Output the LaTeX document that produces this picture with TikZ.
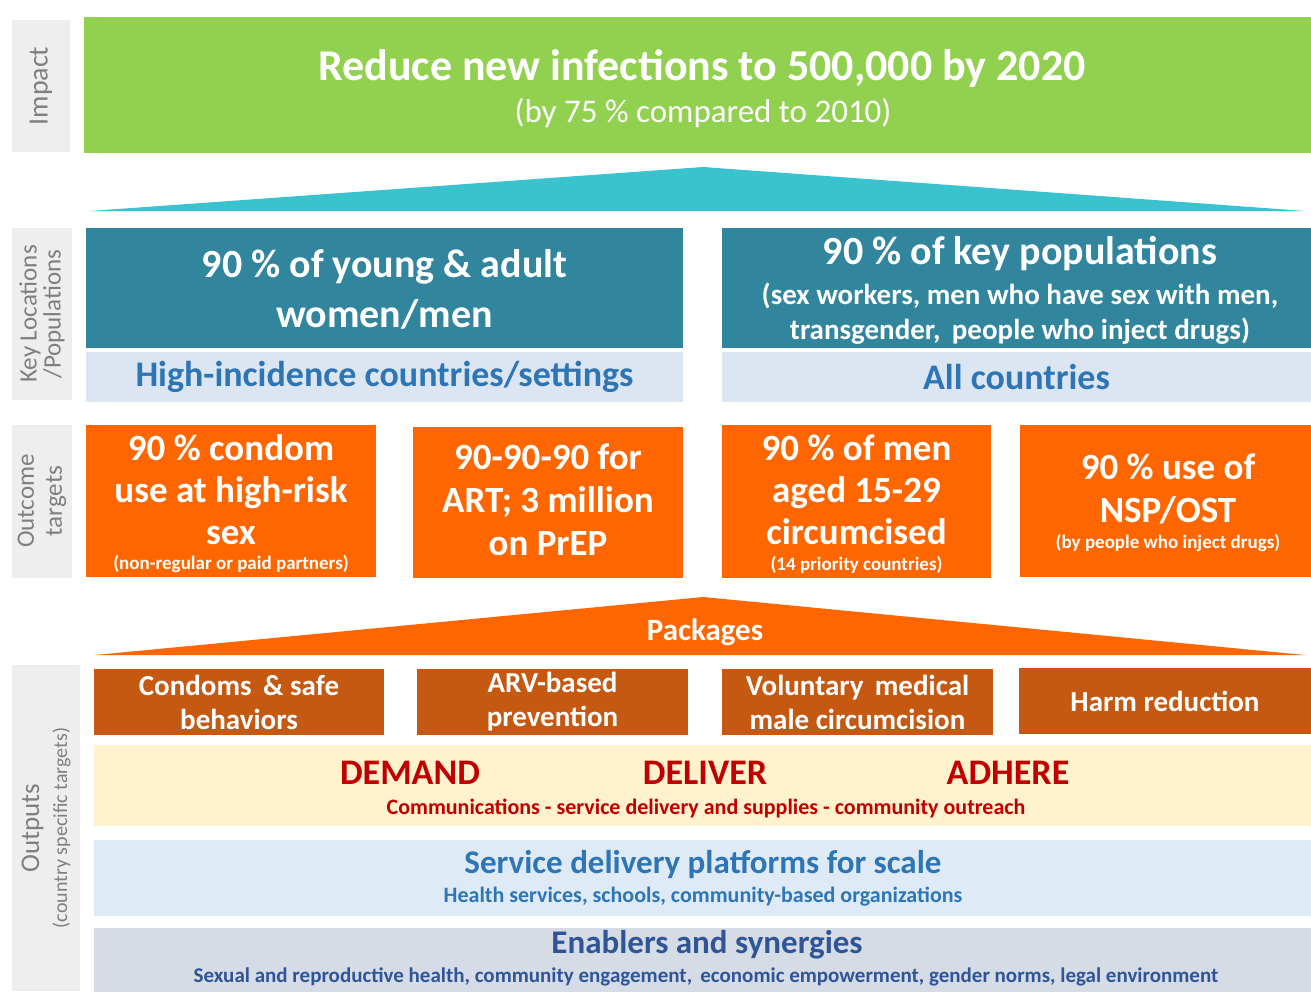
\documentclass[tikz,border=0pt]{standalone}
\usepackage{fontspec}
\setmainfont{Carlito}
\definecolor{ImpactGreen}{HTML}{92D050}
\definecolor{PopTeal}{HTML}{31859C}
\definecolor{ArrowTeal}{HTML}{3AC3CF}
\definecolor{BandBlue}{HTML}{DCE6F2}
\definecolor{TargetOrange}{HTML}{FF6600}
\definecolor{PackBrown}{HTML}{C65911}
\definecolor{DemandCream}{HTML}{FFF2CC}
\definecolor{DemandRed}{HTML}{C00000}
\definecolor{ServiceBlue}{HTML}{DEEBF7}
\definecolor{EnableGrey}{HTML}{D6DCE5}
\definecolor{TextBlue}{HTML}{2E75B6}
\definecolor{DarkBlue}{HTML}{2F5597}
\definecolor{LabelGrey}{HTML}{EEEEEE}
\definecolor{LabelText}{HTML}{7F7F7F}
\newcommand{\fs}[1]{\fontsize{#1}{1.2\dimexpr#1pt\relax}\selectfont}

\begin{document}
\begin{tikzpicture}[x=1pt,y=-1pt,every node/.style={inner sep=0pt,align=center},
  sidelabel/.style={fill=LabelGrey,text=LabelText,rotate=90},
  keybox/.style={fill=PopTeal,text=white,font=\bfseries},
  bandbox/.style={fill=BandBlue,text=TextBlue,font=\bfseries},
  targetbox/.style={fill=TargetOrange,text=white,font=\bfseries},
  packbox/.style={fill=PackBrown,text=white,font=\bfseries}]
\useasboundingbox[fill=white] (0,0) rectangle (1311,991);
% impact
\node[sidelabel,minimum width=132,minimum height=58,font=\fs{28}] (impactlbl) at (41,86){Impact};
\node[fill=ImpactGreen,text=white,minimum width=1227,minimum height=136] (impact) at (697.5,85){};
\node[text=white,font=\fs{44}\bfseries] (impacttitle) at (702,68){Reduce new infections to 500,000 by 2020};
\node[text=white,font=\fs{33}] (impactsub) at (703,113){(by 75 \% compared to 2010)};
\fill[ArrowTeal] (90,211)--(703,167)--(1305,211)--cycle;
% key locations / populations
\node[sidelabel,minimum width=172,minimum height=60,font=\fontsize{25}{24}\selectfont] (keylbl) at (42,314){Key Locations\\/Populations};
\node[keybox,minimum width=597,minimum height=120] (young) at (384.5,288){};
\node[text=white,font=\fontsize{40}{50}\selectfont\bfseries] (youngtxt) at (384.5,289){90 \% of young \& adult\\women/men};
\node[bandbox,minimum width=597,minimum height=50,font=\fs{36}\bfseries] (high) at (384.5,377){High-incidence countries/settings};
\node[keybox,minimum width=589,minimum height=120] (keypop) at (1016.5,288){};
\node[text=white,font=\fs{40}\bfseries] (keypoptitle) at (1020,254){90 \% of key populations};
\node[text=white,font=\fontsize{29}{35}\selectfont\bfseries] (keypopsub) at (1020,314){(sex workers, men who have sex with men,\\transgender,\, people who inject drugs)};
\node[bandbox,minimum width=589,minimum height=50,font=\fs{36}\bfseries] (allc) at (1016.5,377){All countries};
% outcome targets
\node[sidelabel,minimum width=153,minimum height=60,font=\fontsize{25}{28}\selectfont] (outlbl) at (42,501){Outcome\\targets};
\node[targetbox,minimum width=290,minimum height=152] (condom) at (231,501){};
\node[text=white,font=\fontsize{37}{42}\selectfont\bfseries] at (231,490){90 \% condom\\use at high-risk\\sex};
\node[text=white,font=\fs{19}\bfseries] at (231,564){(non-regular or paid partners)};
\node[targetbox,minimum width=270,minimum height=151] (art) at (548,502.5){};
\node[text=white,font=\fontsize{37}{43}\selectfont\bfseries] at (548,500){90-90-90 for\\ART; 3 million\\on PrEP};
\node[targetbox,minimum width=269,minimum height=153] (circ) at (856.5,501.5){};
\node[text=white,font=\fontsize{37}{42}\selectfont\bfseries] at (856.5,490){90 \% of men\\aged 15-29\\circumcised};
\node[text=white,font=\fs{19}\bfseries] at (856.5,565){(14 priority countries)};
\node[targetbox,minimum width=291,minimum height=152] (nsp) at (1165.5,501){};
\node[text=white,font=\fontsize{37}{43}\selectfont\bfseries] at (1168,489){90 \% use of\\NSP/OST};
\node[text=white,font=\fs{19}\bfseries] at (1168,543){(by people who inject drugs)};
% packages
\fill[TargetOrange] (95,655)--(703,597)--(1305,655)--cycle;
\node[text=white,font=\fs{31}\bfseries] (packages) at (705,632){Packages};
\node[sidelabel,minimum width=326,minimum height=68,font=\fontsize{27}{28}\selectfont] (outputlbl) at (46,828){Outputs\\{\fontsize{20}{22}\selectfont(country specific targets)}};
\node[packbox,minimum width=290,minimum height=66,font=\fontsize{29}{34}\selectfont\bfseries] (condoms) at (239,702){Condoms \,\& safe\\behaviors};
\node[packbox,minimum width=271,minimum height=66,font=\fontsize{29}{34}\selectfont\bfseries] (arv) at (552.5,702){ARV-based\\prevention};
\node[packbox,minimum width=271,minimum height=66,font=\fontsize{29}{34}\selectfont\bfseries] (vmmc) at (857.5,702){Voluntary\, medical\\male circumcision};
\node[packbox,minimum width=292,minimum height=66,font=\fs{29}\bfseries] (harm) at (1165,701){Harm reduction};
% outputs
\node[fill=DemandCream,minimum width=1217,minimum height=81] (demand) at (702.5,785.5){};
\node[text=DemandRed,font=\fs{36}\bfseries] at (410,773){DEMAND};
\node[text=DemandRed,font=\fs{36}\bfseries] at (705,773){DELIVER};
\node[text=DemandRed,font=\fs{36}\bfseries] at (1008,773){ADHERE};
\node[text=DemandRed,font=\fs{22}\bfseries] at (706,808){Communications - service delivery and supplies - community outreach};
\node[fill=ServiceBlue,minimum width=1217,minimum height=76] (service) at (702.5,878){};
\node[text=TextBlue,font=\fs{33}\bfseries] at (703,865){Service delivery platforms for scale};
\node[text=TextBlue,font=\fs{22}\bfseries] at (703,897){Health services, schools, community-based organizations};
\node[fill=EnableGrey,minimum width=1217,minimum height=80] (enable) at (702.5,968){};
\node[text=DarkBlue,font=\fs{33}\bfseries] at (707,945){Enablers and synergies};
\node[text=DarkBlue,font=\fs{21}\bfseries] at (706,977){Sexual and reproductive health, community engagement,\, economic empowerment, gender norms, legal environment};
\end{tikzpicture}
\end{document}
